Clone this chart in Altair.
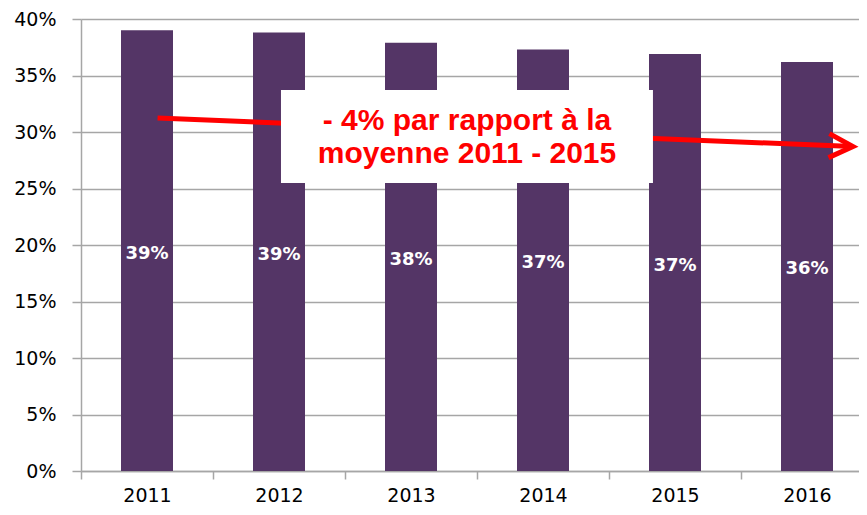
import altair as alt
import pandas as pd

# ---- data ----
years = ["2011", "2012", "2013", "2014", "2015", "2016"]
shares = [0.390, 0.388, 0.379, 0.373, 0.369, 0.362]
share_labels = ["39%", "39%", "38%", "37%", "37%", "36%"]
y_ticks = [0.0, 0.05, 0.10, 0.15, 0.20, 0.25, 0.30, 0.35, 0.40]

arrow_x = [2011.08, 2016.348]
arrow_y = [0.3124, 0.2871]

box_x = [2012.015]
box_x2 = [2014.833]
box_y = [0.3372]
box_y2 = [0.2549]

note_lines = ["- 4% par rapport à la", "moyenne 2011 - 2015"]
note_x = [2013.424, 2013.424]
note_y = [0.3018, 0.2726]

# ---- tables ----
bars_df = pd.DataFrame({"year": years, "share": shares, "label": share_labels})
arrow_df = pd.DataFrame({"x": arrow_x, "y": arrow_y})
head_df = arrow_df.tail(1)
box_df = pd.DataFrame({"x": box_x, "x2": box_x2, "y": box_y, "y2": box_y2})
note_df = pd.DataFrame({"x": note_x, "y": note_y, "t": note_lines})

PURPLE = "#543566"
RED = "#FF0000"
GRID = "#A6A6A6"
RANGE = [0, 792]

band_scale = alt.Scale(domain=years, range=RANGE, paddingInner=0, paddingOuter=0)
num_scale = alt.Scale(domain=[2010.5, 2016.5], range=RANGE, nice=False, zero=False)
y_scale = alt.Scale(domain=[0, 0.4], nice=False, zero=True)

y_enc = alt.Y(
    "share:Q",
    scale=y_scale,
    axis=alt.Axis(
        values=y_ticks, format=".0%", title=None,
        labelFont="DejaVu Sans", labelFontSize=19, labelColor="#000000",
        labelPadding=16, tickSize=9, tickColor=GRID, tickWidth=1.5,
        domainColor=GRID, domainWidth=1.5,
        grid=True, gridColor=GRID, gridWidth=1.5,
    ),
)

bars = alt.Chart(bars_df).mark_bar(width=52, color=PURPLE).encode(
    x=alt.X(
        "year:N", sort=years, scale=band_scale,
        axis=alt.Axis(
            title=None, labelAngle=0, tickBand="extent",
            labelFont="DejaVu Sans", labelFontSize=19, labelColor="#000000",
            labelPadding=7, tickSize=8, tickColor=GRID, tickWidth=1.5,
            domainColor=GRID, domainWidth=1.5, grid=False,
        ),
    ),
    y=y_enc,
)

bar_labels = alt.Chart(bars_df).transform_calculate(
    mid="datum.share / 2"
).mark_text(
    font="DejaVu Sans", fontWeight="bold", fontSize=18, color="white",
    baseline="middle", align="center", dy=3,
).encode(
    x=alt.X("year:N", sort=years, scale=band_scale, axis=None),
    y=alt.Y("mid:Q", scale=y_scale),
    text="label:N",
)

arrow_line = alt.Chart(arrow_df).mark_line(color=RED, strokeWidth=5, strokeCap="butt").encode(
    x=alt.X("x:Q", scale=num_scale, axis=None),
    y=alt.Y("y:Q", scale=y_scale),
)

arrow_head = alt.Chart(head_df).mark_point(
    shape="M-2,-1L0,0L-2,1", filled=False, size=576, strokeWidth=5,
    color=RED, opacity=1, angle=2.3,
).encode(
    x=alt.X("x:Q", scale=num_scale, axis=None),
    y=alt.Y("y:Q", scale=y_scale),
)

box = alt.Chart(box_df).mark_rect(color="white").encode(
    x=alt.X("x:Q", scale=num_scale, axis=None),
    x2="x2:Q",
    y=alt.Y("y:Q", scale=y_scale),
    y2="y2:Q",
)

note = alt.Chart(note_df).mark_text(
    font="Liberation Sans", fontWeight="bold", fontSize=30, color=RED,
    baseline="alphabetic", align="center",
).encode(
    x=alt.X("x:Q", scale=num_scale, axis=None),
    y=alt.Y("y:Q", scale=y_scale),
    text="t:N",
)

chart = alt.layer(
    bars, bar_labels, arrow_line, arrow_head, box, note
).resolve_scale(
    x="independent"
).properties(
    width=778, height=452,
    padding={"left": 73, "top": 11, "right": 0, "bottom": 36},
    autosize=alt.AutoSizeParams(type="none"),
    background="white",
).configure_view(stroke=None)

chart.save("out.html", embed_options={"renderer": "svg", "actions": False})
